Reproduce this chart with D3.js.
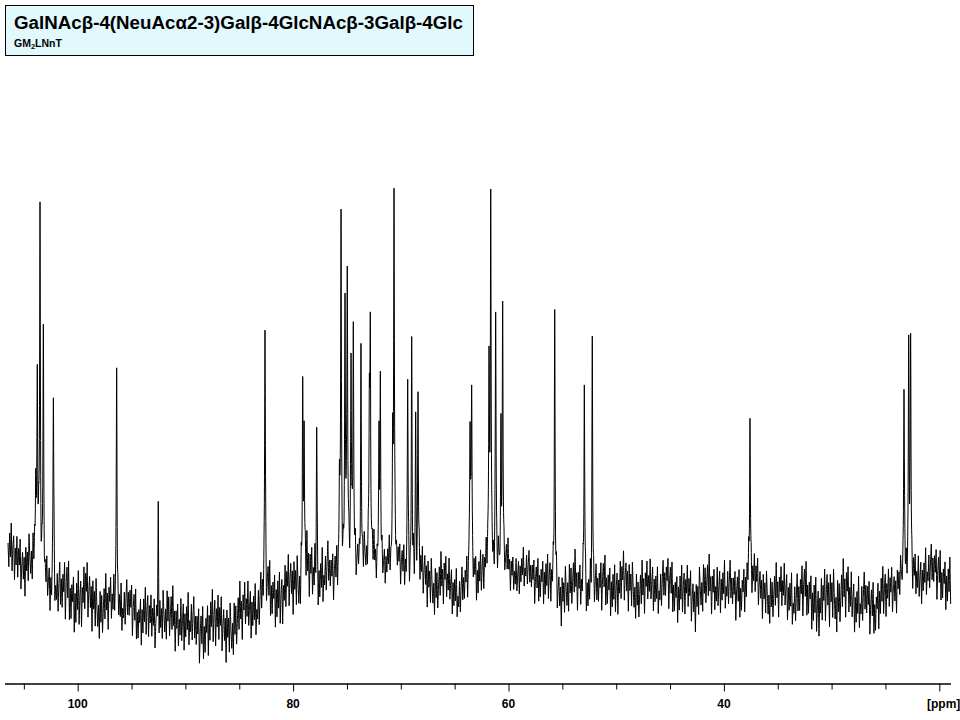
<!DOCTYPE html>
<html>
<head>
<meta charset="utf-8">
<script src="https://cdn.jsdelivr.net/npm/d3@7/dist/d3.min.js"></script>
<style>
  html, body { margin: 0; padding: 0; background: #fff; }
  svg { display: block; }
</style>
</head>
<body>
<svg id="chart" width="960" height="720"></svg>
<script>
// ---------------- DATA ----------------
const titleText = "GalNAcβ-4(NeuAcα2-3)Galβ-4GlcNAcβ-3Galβ-4Glc";
const subtitleMain = "GM";
const subtitleSub = "2";
const subtitleRest = "LNnT";

// spectral window (ppm)
const ppmStart = 106.47;
const ppmEnd = 18.94;

// axis ticks (ppm)
const tickValues = [105, 100, 95, 90, 85, 80, 75, 70, 65, 60, 55, 50, 45, 40, 35, 30, 25, 20];
const labelValues = [100, 80, 60, 40];
const unitLabel = "[ppm]";

// peak positions (ppm) and apex intensities (relative units, tallest ~100)
const peakPpm = [103.90, 103.75, 103.50, 103.19, 102.26, 96.38, 92.52, 82.61,
  79.11, 78.98, 77.81, 75.70, 75.55, 75.18, 74.97, 74.62, 74.41, 73.70, 72.92, 72.83,
  72.02, 71.90, 70.75, 70.63, 69.36, 68.99, 68.62, 68.40, 63.57, 63.42, 61.81, 61.65,
  61.19, 60.70, 60.54, 55.71, 52.96, 52.22, 37.58, 23.28, 22.84, 22.66];
const peakTop = [30, 56, 96.3, 66, 47.6, 55, 22, 64.5,
  52.8, 42, 40.4, 32, 94.5, 73.7, 80.4, 58.8, 66.6, 61.2, 53.8, 68.7,
  42, 54.3, 44, 99.7, 52.3, 62.9, 44.2, 49.2, 41.8, 50.9, 60.4, 99.5,
  69, 43.8, 71.7, 69.6, 50.9, 63, 42.6, 49.8, 63.3, 63.7];

// baseline: ppm, mid level, noise half-range (relative units)
const basePpm = [106.5, 104.5, 103.0, 101.5, 99, 96, 93, 90, 87, 85, 83, 81, 79, 77.5, 76, 73, 70,
  67.5, 65, 63, 61, 59, 57, 55, 52, 50, 47, 43, 39, 37.5, 35, 32, 28, 25, 23.5, 22, 19];
const baseMid = [8.7, 7, 3, -1, -2.5, -5, -6.5, -9, -9, -7, -3, 0, 2, 3, 6, 7, 6,
  2, 0, 3, 6, 5, 2, 0, 0, 1, 0.5, 0, 0, 2, -1, -2, -2.5, -2, 2, 4, 3.5];
const baseAmp = [10, 10, 9, 12, 11, 10, 10, 11, 11, 11, 11, 11, 11, 12, 9, 8, 8,
  10, 10, 9, 8, 8, 9, 10, 10, 10, 10, 10, 10, 9, 10, 11, 11, 10, 8, 10, 10];

// hand-typed noise textures (fraction of local noise half-range)
const noiseFine = [0.3, -0.5, 0.6, -0.2, 0.9, -0.7, 0.1, 0.5, -0.9, 0.2, -0.3, 0.7, -0.6, 0.4, -0.1,
  0.8, -0.8, 0.0, 0.5, -0.4, 0.3, -1.0, 0.6, -0.2, 0.4, -0.6, 0.9, 0.1, -0.5, 0.2, -0.8, 0.7, -0.3,
  0.5, -0.7, 0.0, 0.6, -0.4, 1.0, -0.2, 0.3, -0.9, 0.4, -0.1, 0.7, -0.6, 0.2, -0.3, 0.8, -0.5, 0.1,
  0.6, -0.8, 0.3, -0.4, 0.5, -0.2, 0.9, -0.7, 0.0, -0.35, 0.45, -0.65, 0.15, 0.75, -0.45, 0.25,
  -0.55, 0.35, -0.15, 0.65, -0.95, 0.05, 0.55, -0.25, 0.85, -0.75, 0.2, -0.6, 0.4, -0.05, 0.7, -0.85];
const noiseSlow = [0.2, 0.5, -0.1, -0.6, -0.3, 0.4, 0.7, 0.1, -0.4, -0.8, -0.2, 0.3, 0.6, -0.1, -0.5,
  0.0, 0.8, 0.4, -0.3, -0.7, -0.1, 0.5, 0.2, -0.4, 0.3, 0.9, 0.1, -0.6, -0.2, 0.4, -0.5, -0.9, 0.0, 0.6, 0.3, -0.2, 0.1];

// ---------------- CHART ----------------
const svg = d3.select("#chart");

const x = d3.scaleLinear().domain([100, 20]).range([77.7, 939.3]);
const y = d3.scaleLinear().domain([0, 100]).range([590, 187]);

const midAt = d3.scaleLinear().domain(basePpm).range(baseMid).clamp(true);
const ampAt = d3.scaleLinear().domain(basePpm).range(baseAmp).clamp(true);

const hw = 0.04; // line half-width (ppm)

function texAt(tex, p, stepPpm) {
  const t = (ppmStart - p) / stepPpm;
  const k = Math.floor(t), f = t - k, n = tex.length;
  const a = tex[((k % n) + n) % n], b = tex[(((k + 1) % n) + n) % n];
  return a + (b - a) * f;
}
function noiseAt(p) {
  return 0.75 * texAt(noiseFine, p, 0.075) + 0.35 * texAt(noiseSlow, p, 0.45);
}
function floorAt(p) { return midAt(p) + ampAt(p) * noiseAt(p); }

// solve line amplitudes so that apexes land on the read values
const peaks = peakPpm.map((p, i) => ({ p, top: peakTop[i], a: peakTop[i] - floorAt(p) }));
function lorentzSum(p) {
  let s = 0;
  for (const pk of peaks) { const d = (p - pk.p) / hw; s += pk.a / (1 + d * d); }
  return s;
}
for (let it = 0; it < 8; it++) {
  const vals = peaks.map(pk => floorAt(pk.p) + lorentzSum(pk.p));
  peaks.forEach((pk, i) => { pk.a += pk.top - vals[i]; });
}

// sample grid
const pts = [];
const step = 0.0125;
for (let i = 0; ; i++) {
  const p = ppmStart - i * step;
  if (p < ppmEnd) break;
  pts.push(p);
}
peaks.forEach(pk => pts.push(pk.p));
pts.sort((a, b) => b - a);

const spectrum = pts.map(p => ({ p, v: floorAt(p) + lorentzSum(p) }));

const line = d3.line().x(d => x(d.p)).y(d => y(d.v));

svg.append("path")
  .datum(spectrum)
  .attr("d", line)
  .attr("fill", "none")
  .attr("stroke", "#000")
  .attr("stroke-width", 1);

// axis
const axisY = 683.5;
const axisG = svg.append("g").attr("transform", `translate(0,${axisY})`);
const axis = d3.axisBottom(x)
  .tickValues(tickValues)
  .tickSize(6)
  .tickFormat("");
axisG.call(axis);
axisG.select(".domain")
  .attr("d", `M${5},0.5H${951}`)
  .attr("stroke", "#000")
  .attr("stroke-width", 1.3);
axisG.selectAll(".tick line")
  .attr("stroke", "#000")
  .attr("y1", 0)
  .attr("y2", d => labelValues.includes(d) || d === 20 ? 8 : 6);

const labelFont = "'Liberation Sans Narrow', 'Arial Narrow', 'Liberation Sans', Arial, sans-serif";
svg.append("g").selectAll("text")
  .data(labelValues)
  .join("text")
  .attr("x", d => x(d))
  .attr("y", 708)
  .attr("text-anchor", "middle")
  .attr("font-family", labelFont)
  .attr("font-weight", "bold")
  .attr("font-size", 12)
  .attr("fill", "#000")
  .text(d => d);

svg.append("text")
  .attr("x", 927)
  .attr("y", 708)
  .attr("font-family", labelFont)
  .attr("font-weight", "bold")
  .attr("font-size", 12)
  .attr("fill", "#000")
  .text(unitLabel);

// title box
svg.append("rect")
  .attr("x", 5.5).attr("y", 5.5)
  .attr("width", 468).attr("height", 50)
  .attr("fill", "#e1f8fc")
  .attr("stroke", "#000")
  .attr("stroke-width", 1);

svg.append("text")
  .attr("x", 14).attr("y", 29)
  .attr("font-family", "'Liberation Sans', Arial, sans-serif")
  .attr("font-weight", "bold")
  .attr("font-size", 18)
  .attr("textLength", 449)
  .attr("lengthAdjust", "spacingAndGlyphs")
  .attr("fill", "#000")
  .text(titleText);

const sub = svg.append("text")
  .attr("x", 14).attr("y", 47)
  .attr("font-family", "'Liberation Sans', Arial, sans-serif")
  .attr("font-weight", "bold")
  .attr("font-size", 10.5)
  .attr("fill", "#000");
sub.append("tspan").text(subtitleMain);
sub.append("tspan").attr("font-size", 7.5).attr("dy", 1.5).text(subtitleSub);
sub.append("tspan").attr("dy", -1.5).text(subtitleRest);
</script>
</body>
</html>
